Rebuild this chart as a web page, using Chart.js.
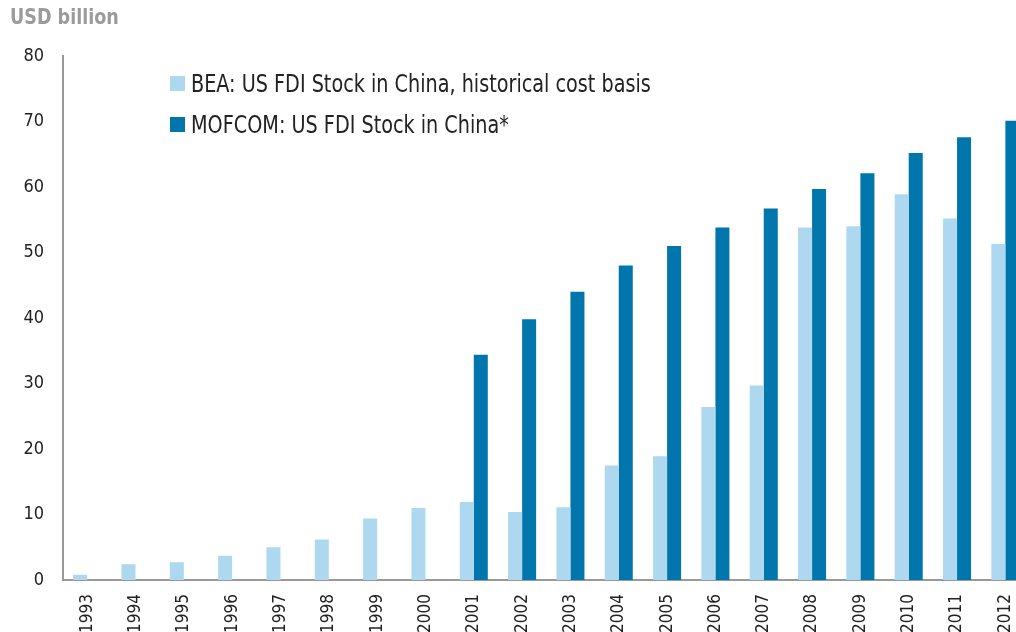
<!DOCTYPE html>
<html>
<head>
<meta charset="utf-8">
<title>US FDI Stock in China</title>
<script src="https://cdn.jsdelivr.net/npm/chart.js@4.4.0/dist/chart.umd.min.js"></script>
<style>
  body { margin: 0; overflow: hidden; background: #fff; font-family: "DejaVu Sans Condensed", "Liberation Sans Narrow", sans-serif; }
  #wrap { position: relative; width: 1040px; height: 632px; }
  #unit { position: absolute; left: 10px; top: 5px; font-weight: bold; font-size: 21px; color: #9b9b9b;
          transform: scaleX(0.93); transform-origin: left top; }
  #legend { position: absolute; left: 170px; top: 63px; font-size: 24px; color: #222; }
  #legend div { height: 41px; display: flex; align-items: center; white-space: nowrap; }
  #legend span.box { display: inline-block; width: 15px; height: 15px; margin-right: 6px; flex: none; }
  #legend span.txt { display: inline-block; transform: scaleX(0.89); transform-origin: left center; }
</style>
</head>
<body>
<div id="wrap">
  <canvas id="fdiChart" width="1040" height="632"></canvas>
  <div id="unit">USD billion</div>
  <div id="legend"></div>
</div>
<script>
//----------------------
// Data
//----------------------

const years = ['1993', '1994', '1995', '1996', '1997', '1998', '1999', '2000', '2001', '2002',
               '2003', '2004', '2005', '2006', '2007', '2008', '2009', '2010', '2011', '2012'];

const beaStock = [0.8, 2.4, 2.7, 3.7, 5.0, 6.2, 9.4, 11.0, 11.9, 10.4,
                  11.1, 17.5, 18.9, 26.4, 29.7, 53.8, 54.0, 58.9, 55.2, 51.3];

const mofcomStock = [null, null, null, null, null, null, null, null, 34.4, 39.8,
                     44.0, 48.0, 51.0, 53.8, 56.7, 59.7, 62.1, 65.2, 67.6, 70.1];

const yTicks = [0, 10, 20, 30, 40, 50, 60, 70, 80];

const lightBlue = '#add8f0';
const darkBlue = '#0076ac';
const fontFamily = '"DejaVu Sans Condensed", "Liberation Sans Narrow", sans-serif';

//----------------------
// Bar chart
//----------------------

var ctx = document.getElementById('fdiChart').getContext('2d');
var chart = new Chart(ctx, {
    type: 'bar',
    data: {
        labels: years,
        datasets: [{
            label: 'BEA: US FDI Stock in China, historical cost basis',
            backgroundColor: lightBlue,
            data: beaStock
        }, {
            label: 'MOFCOM: US FDI Stock in China*',
            backgroundColor: darkBlue,
            data: mofcomStock
        }]
    },
    options: {
        responsive: false,
        animation: false,
        layout: { padding: { top: 56, right: 9, left: 0, bottom: 0 } },
        plugins: {
            legend: { display: false },
            tooltip: { enabled: false }
        },
        datasets: {
            bar: { categoryPercentage: 0.58, barPercentage: 1.0 }
        },
        scales: {
            x: {
                grid: { display: false, drawTicks: false },
                border: { display: true, color: '#999', width: 2 },
                ticks: {
                    color: '#222',
                    font: { family: fontFamily, size: 17 },
                    minRotation: 90,
                    maxRotation: 90,
                    autoSkip: false,
                    padding: 14
                },
                afterFit: (scale) => { scale.height = 52; }
            },
            y: {
                min: 0,
                max: 80,
                grid: { display: false, drawTicks: false },
                border: { display: true, color: '#999', width: 2 },
                afterBuildTicks: (scale) => { scale.ticks = yTicks.map(v => ({ value: v })); },
                ticks: {
                    color: '#222',
                    font: { family: fontFamily, size: 18 },
                    padding: 19
                },
                afterFit: (scale) => { scale.width = 63; }
            }
        }
    }
});

//----------------------
// Legend inside the plot
//----------------------

const legendBox = document.getElementById('legend');
chart.data.datasets.forEach(ds => {
    const row = document.createElement('div');
    row.innerHTML = '<span class="box" style="background:' + ds.backgroundColor + '"></span>' +
                    '<span class="txt">' + ds.label + '</span>';
    legendBox.appendChild(row);
});
</script>
</body>
</html>
